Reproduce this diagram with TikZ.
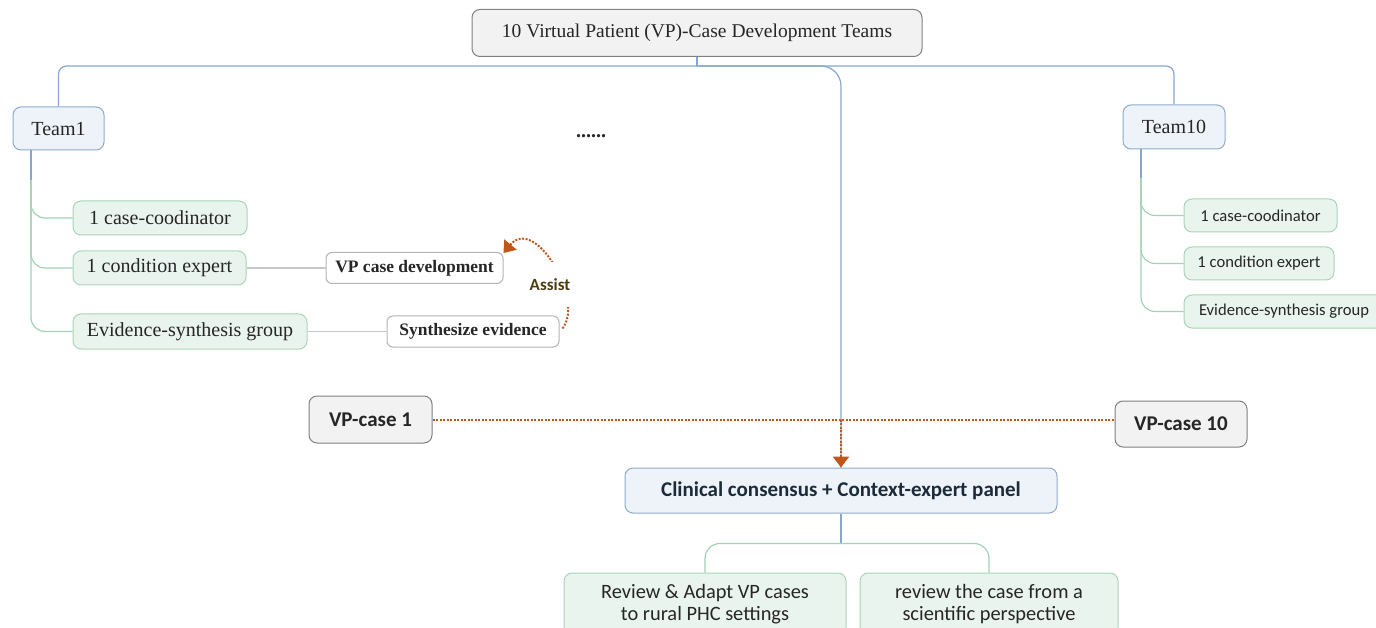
\documentclass[tikz,border=0pt]{standalone}
\usepackage{fontspec}
\setmainfont{Liberation Serif}
\setsansfont{Carlito}
\usepackage{tikz}
\usetikzlibrary{arrows.meta,calc}

\definecolor{txt}{HTML}{262626}
\definecolor{grayfill}{HTML}{F2F2F2}
\definecolor{grayedge}{HTML}{808080}
\definecolor{teamfill}{HTML}{EEF3FA}
\definecolor{teamedge}{HTML}{8FAACC}
\definecolor{greenfill}{HTML}{EAF4EE}
\definecolor{greenedge}{HTML}{A8D5B8}
\definecolor{taskedge}{HTML}{B4B4B4}
\definecolor{bluelinec}{HTML}{86A6CE}
\definecolor{greenlinec}{HTML}{A3D3B3}
\definecolor{graylinec}{HTML}{C8C8C8}
\definecolor{assistc}{HTML}{C0561A}
\definecolor{assisttxt}{HTML}{4D3B12}
\definecolor{paneltxt}{HTML}{1C2B3A}

\begin{document}
\begin{tikzpicture}[x=1pt,y=-1pt,
    box/.style={rounded corners=8pt, line width=1pt, align=center, inner sep=0pt, text=txt},
    graybox/.style={box, draw=grayedge, fill=grayfill},
    teambox/.style={box, draw=teamedge, fill=teamfill, font=\fontsize{20}{24}\selectfont},
    memberbox/.style={box, draw=greenedge, fill=greenfill},
    taskbox/.style={box, draw=taskedge, fill=white, rounded corners=6pt, font=\fontsize{17.5}{20}\selectfont\bfseries},
    casebox/.style={graybox, font=\fontsize{21}{24}\selectfont\sffamily\bfseries},
    blueline/.style={draw=bluelinec, line width=1.2pt},
    greenline/.style={draw=greenlinec, line width=1.2pt},
    grayline/.style={draw=graylinec, line width=1.2pt},
    dotline/.style={draw=assistc, line width=2pt, dash pattern=on 2pt off 1.5pt},
    dotarrow/.style={dotline, -{Triangle[width=16pt,length=11pt,fill=assistc]}}]

    \useasboundingbox (0,0) rectangle (1376,628);
    \clip (0,0) rectangle (1376,628);

    \node[graybox, minimum width=450pt, minimum height=47pt, font=\fontsize{19.5}{24}\selectfont] (top) at (697,33) {10 Virtual Patient (VP)-Case Development Teams};

    \node[teambox, minimum width=91pt, minimum height=43pt] (team1) at (58.5,128.5) {Team1};
    \node[teambox, minimum width=102pt, minimum height=44pt] (team10) at (1174,127) {Team10};
    \node[text=txt, font=\fontsize{20}{24}\selectfont\bfseries] (more) at (591,136) {......};

    \node[memberbox, minimum width=174pt, minimum height=34pt, font=\fontsize{20}{24}\selectfont] (coord1) at (160,218) {1 case-coodinator};
    \node[memberbox, minimum width=173pt, minimum height=34pt, font=\fontsize{20}{24}\selectfont] (expert1) at (159.5,268) {1 condition expert};
    \node[memberbox, minimum width=234pt, minimum height=35pt, font=\fontsize{20}{24}\selectfont] (evid1) at (190,331.5) {Evidence-synthesis group};

    \node[taskbox, minimum width=177pt, minimum height=31pt] (vpdev) at (414.5,268) {VP case development};
    \node[taskbox, minimum width=172pt, minimum height=31pt] (synth) at (473,331.5) {Synthesize evidence};

    \node[memberbox, minimum width=153pt, minimum height=33pt, font=\fontsize{16.6}{20}\selectfont\sffamily] (coord10) at (1260.5,215.5) {1 case-coodinator};
    \node[memberbox, minimum width=150pt, minimum height=33pt, font=\fontsize{16.6}{20}\selectfont\sffamily] (expert10) at (1259,263.5) {1 condition expert};
    \node[memberbox, minimum width=200pt, minimum height=33pt, font=\fontsize{16.6}{20}\selectfont\sffamily] (evid10) at (1284,311.5) {Evidence-synthesis group};

    \node[casebox, minimum width=123pt, minimum height=47pt] (case1) at (370.5,419.5) {VP-case 1};
    \node[casebox, minimum width=132pt, minimum height=46pt] (case10) at (1181,424) {VP-case 10};

    \node[box, draw=teamedge, fill=teamfill, text=paneltxt, minimum width=432pt, minimum height=45pt, font=\fontsize{21}{24}\selectfont\sffamily\bfseries] (panel) at (841,490.5) {Clinical consensus + Context-expert panel};

    \node[memberbox, minimum width=282pt, minimum height=62pt, font=\fontsize{20.4}{22}\selectfont\sffamily] (adapt) at (705,604) {Review \& Adapt VP cases\\to rural PHC settings};
    \node[memberbox, minimum width=258pt, minimum height=62pt, font=\fontsize{20.4}{22}\selectfont\sffamily] (sci) at (989,604) {review the case from a\\scientific perspective};

    \coordinate (j) at ($(top.south)+(0,9)$);
    \draw[blueline] (top.south) -- (j);
    \draw[blueline, rounded corners=8pt] (j) -| (team1.north);
    \draw[blueline, rounded corners=8pt] (j) -| (team10.north);
    \draw[blueline, rounded corners=20pt] (j) -| (panel.north);

    \coordinate (t1) at ([xshift=-27.5pt]team1.south);
    \coordinate (t1g) at ($(t1)+(0,30)$);
    \draw[blueline] (t1) -- (t1g);
    \draw[greenline, rounded corners=14pt] (t1g) |- (coord1.west);
    \draw[greenline, rounded corners=14pt] (t1g) |- (expert1.west);
    \draw[greenline, rounded corners=14pt] (t1g) |- (evid1.west);

    \coordinate (t10) at ([xshift=-33pt]team10.south);
    \coordinate (t10g) at ($(t10)+(0,29)$);
    \draw[blueline] (t10) -- (t10g);
    \draw[greenline, rounded corners=14pt] (t10g) |- (coord10.west);
    \draw[greenline, rounded corners=14pt] (t10g) |- (expert10.west);
    \draw[greenline, rounded corners=14pt] (t10g) |- (evid10.west);

    \draw[grayline] (expert1) -- (vpdev);
    \draw[grayline] (evid1) -- (synth);

    \draw[dotarrow] ([xshift=3pt,yshift=3pt]synth.east) .. controls (585,300) and (535,215) .. ([yshift=-1pt]vpdev.north east);
    \node[fill=white, inner sep=0pt, minimum width=50pt, minimum height=45pt, text=assisttxt, font=\fontsize{17}{20}\selectfont\sffamily\bfseries] (assist) at (550,284.5) {Assist};

    \draw[dotline] (case1.east) -- (case1.east -| case10.west);
    \coordinate (meet) at (case1.east -| panel.north);
    \draw[dotarrow, line width=2.4pt] (meet) -- (panel.north);

    \coordinate (k) at ($(panel.south)+(0,30)$);
    \draw[blueline] (panel.south) -- (k);
    \draw[greenline, rounded corners=15pt] (k) -| (adapt.north);
    \draw[greenline, rounded corners=15pt] (k) -| (sci.north);

\end{tikzpicture}
\end{document}
